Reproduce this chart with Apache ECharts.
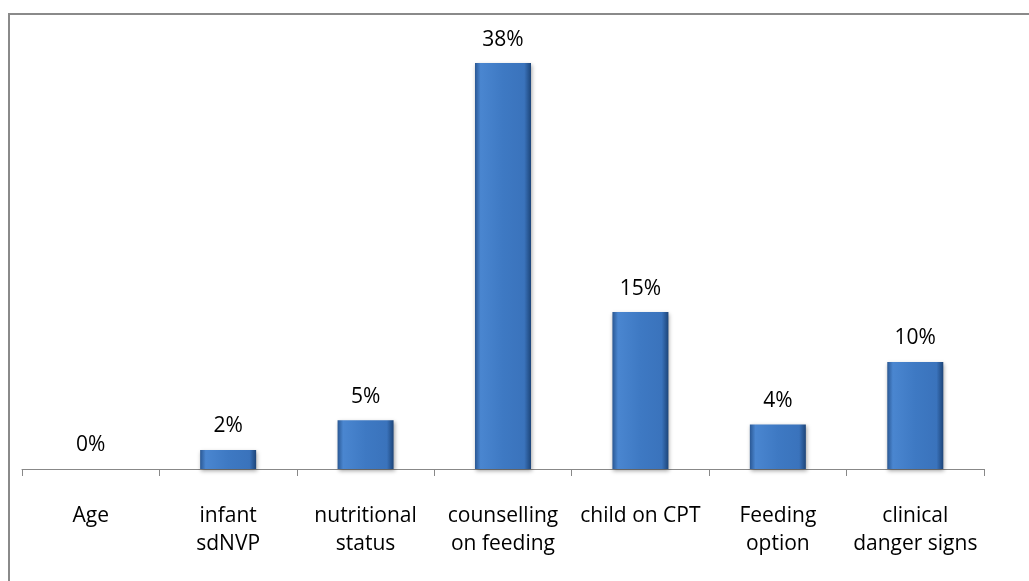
<!DOCTYPE html>
<html>
<head>
<meta charset="utf-8">
<script src="https://cdn.jsdelivr.net/npm/echarts@6/dist/echarts.min.js"></script>
<style>html,body{margin:0;padding:0;background:#fff;}#c{width:1029px;height:581px;}</style>
</head>
<body>
<div id="c"></div>
<script>
const categories = ["Age", "infant\nsdNVP", "nutritional\nstatus", "counselling\non feeding", "child on CPT", "Feeding\noption", "clinical\ndanger signs"];
const values = [0, 1.8, 4.6, 38.3, 14.8, 4.2, 10.1];

const chart = echarts.init(document.getElementById('c'), null, {renderer: 'canvas'});
const font = '"Open Sans", sans-serif';
chart.setOption({
  animation: false,
  backgroundColor: '#ffffff',
  graphic: [{
    type: 'rect', silent: true,
    shape: {x: 9, y: 14, width: 1200, height: 800},
    style: {fill: 'none', stroke: '#8a8a8a', lineWidth: 2}
  }],
  grid: {left: 22, right: 45, top: 45, bottom: 112, containLabel: false},
  xAxis: {
    type: 'category',
    data: categories,
    axisLine: {show: true, lineStyle: {color: '#888888', width: 1}},
    axisTick: {show: true, length: 7, alignWithLabel: false, lineStyle: {color: '#888888'}},
    axisLabel: {color: '#000', fontFamily: font, fontSize: 21, lineHeight: 28, margin: 33, interval: 0}
  },
  yAxis: {
    type: 'value', min: 0, max: 40, show: false,
    splitLine: {show: false}
  },
  series: [{
    type: 'bar',
    data: values,
    barWidth: 56,
    itemStyle: {
      color: new echarts.graphic.LinearGradient(0, 0, 1, 0, [
        {offset: 0, color: '#2a5894'},
        {offset: 0.1, color: '#4a86d0'},
        {offset: 0.5, color: '#3e79c3'},
        {offset: 0.88, color: '#3a73bc'},
        {offset: 1, color: '#1d4579'}
      ]),
      shadowColor: 'rgba(0,0,0,0.35)',
      shadowBlur: 4,
      shadowOffsetY: 2,
      shadowOffsetX: 1
    },
    label: {
      show: true, position: 'top', distance: 13,
      color: '#000', fontFamily: font, fontSize: 21,
      formatter: p => Math.round(p.value) + '%'
    }
  }]
});
</script>
</body>
</html>
